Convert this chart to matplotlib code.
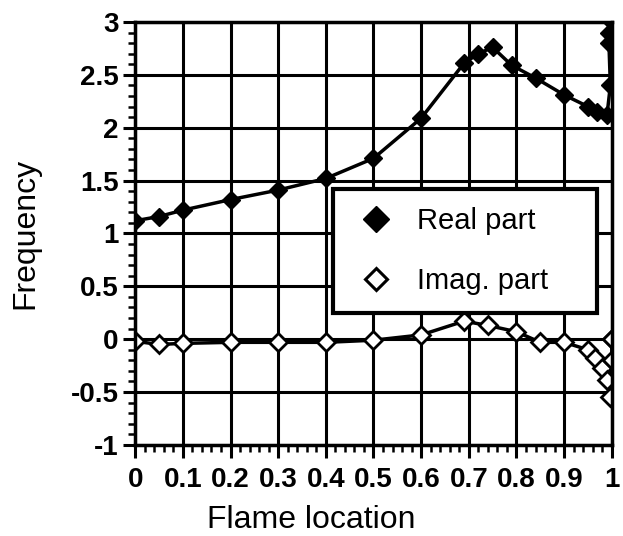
import numpy as np
import matplotlib
matplotlib.use('Agg')
import matplotlib.pyplot as plt
from matplotlib.ticker import MultipleLocator
from matplotlib.lines import Line2D

plt.rcParams['font.family'] = ['Liberation Sans', 'DejaVu Sans']

# real part of the frequency vs flame location
x_real = [0, 0.05, 0.1, 0.2, 0.3, 0.4, 0.5, 0.6, 0.69, 0.72, 0.75, 0.79,
          0.84, 0.9, 0.95, 0.97, 0.99, 0.997, 0.994, 0.995, 1.0]
y_real = [1.12, 1.16, 1.22, 1.32, 1.41, 1.52, 1.71, 2.09, 2.61, 2.7, 2.76, 2.59,
          2.47, 2.31, 2.2, 2.15, 2.12, 2.4, 2.8, 2.9, 3.0]

# imaginary part
x_imag = [0, 0.05, 0.1, 0.2, 0.3, 0.4, 0.5, 0.6, 0.69, 0.74, 0.8, 0.85,
          0.9, 0.95, 0.965, 0.98, 0.99, 0.996, 1.0, 1.0, 1.0]
y_imag = [-0.02, -0.05, -0.04, -0.03, -0.03, -0.03, -0.01, 0.04, 0.17, 0.13, 0.07, -0.03,
          -0.03, -0.1, -0.18, -0.27, -0.39, -0.55, -0.2, 0.0, 0.0]

xticks = np.round(np.arange(0, 1.01, 0.1), 1)
yticks = np.round(np.arange(-1, 3.01, 0.5), 1)

fig = plt.figure(figsize=(6.23, 5.36), dpi=100)
ax = fig.add_axes([0.217, 0.170, 0.765, 0.789])

ax.plot(x_real, y_real, color='black', lw=2.5, marker='D', ms=9.5,
        mfc='black', mec='black')
ax.plot(x_imag, y_imag, color='black', lw=2.5, marker='D', ms=9,
        mfc='white', mec='black', mew=2)

ax.set_xlim(0, 1)
ax.set_ylim(-1, 3)
ax.set_xticks(xticks)
ax.set_xticklabels([f'{v:g}' for v in xticks], fontsize=20, fontweight='bold')
ax.set_yticks(yticks)
ax.set_yticklabels([f'{v:g}' for v in yticks], fontsize=20, fontweight='bold')
ax.xaxis.set_minor_locator(MultipleLocator(0.02))
ax.yaxis.set_minor_locator(MultipleLocator(0.1))

ax.grid(True, which='major', color='black', lw=2.2)
ax.set_axisbelow(True)
for s in ax.spines.values():
    s.set_linewidth(2.5)
ax.tick_params(which='major', direction='out', length=9, width=2.2, pad=3)
ax.tick_params(axis='x', which='major', pad=7)
ax.tick_params(which='minor', direction='out', length=5, width=1.8)

ax.set_xlabel('Flame location', fontsize=23)
ax.xaxis.set_label_coords(0.369, -0.142)
ax.set_ylabel('Frequency', fontsize=23, labelpad=22)

handles = [
    Line2D([], [], ls='none', marker='D', ms=13, mfc='black', mec='black'),
    Line2D([], [], ls='none', marker='D', ms=11, mfc='white', mec='black', mew=2.2),
]
leg = ax.legend(handles, ['Real part', 'Imag. part'],
                loc='upper left', bbox_to_anchor=(0.415, 0.605, 0.554, 0.0),
                mode='expand', fontsize=21,
                handlelength=1.7, handletextpad=0.55, labelspacing=1.1,
                borderpad=0.62, fancybox=False, framealpha=1,
                edgecolor='black', borderaxespad=0)
leg.get_frame().set_linewidth(3)

fig.savefig('out.png', dpi=100)
